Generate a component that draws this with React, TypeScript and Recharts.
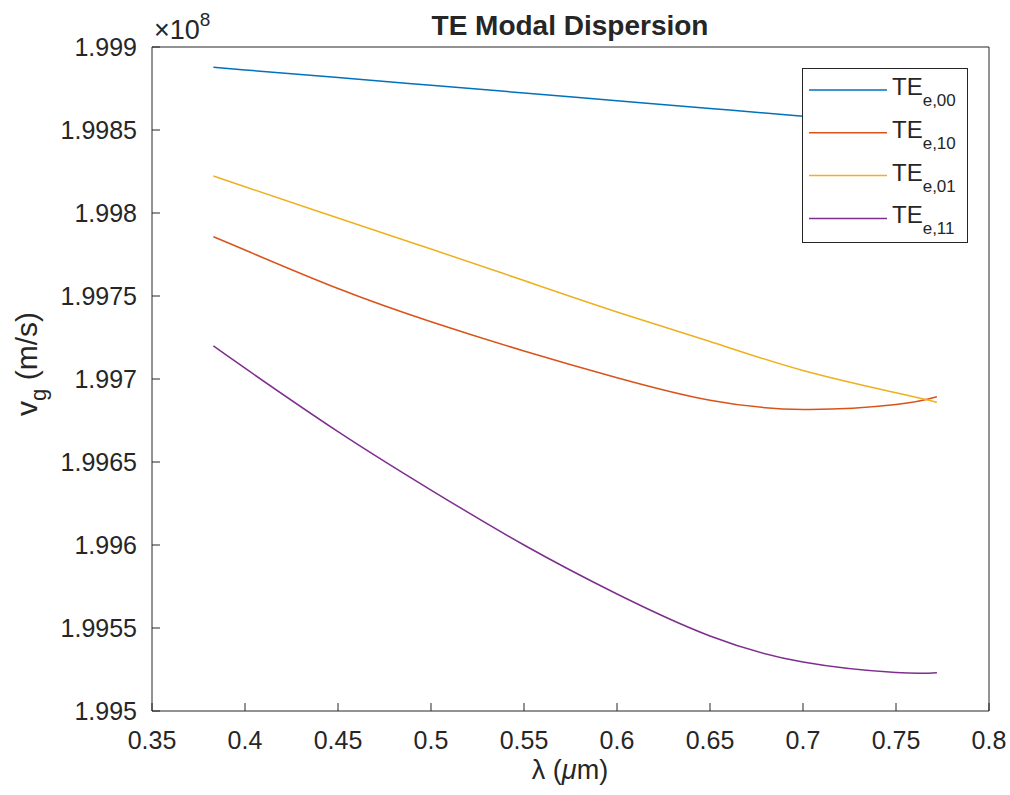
import { LineChart, Line, XAxis, YAxis, Legend } from 'recharts';

// wavelength in um, group velocity in 1e8 m/s
const lambda = [0.383, 0.4, 0.45, 0.5, 0.55, 0.6, 0.65, 0.7, 0.75, 0.772];
const te00 = [1.998878, 1.998862, 1.998816, 1.998769, 1.998723, 1.998676, 1.99863, 1.998583, 1.998537, 1.998516];
const te10 = [1.997857, 1.997777, 1.997545, 1.997345, 1.997169, 1.997008, 1.996872, 1.996817, 1.996846, 1.996893];
const te01 = [1.998223, 1.998158, 1.99797, 1.997783, 1.997593, 1.997404, 1.997226, 1.997051, 1.996917, 1.99686];
const te11 = [1.997199, 1.997065, 1.996683, 1.996331, 1.996, 1.995705, 1.995452, 1.995295, 1.995232, 1.995231];

const xTicks = [0.35, 0.4, 0.45, 0.5, 0.55, 0.6, 0.65, 0.7, 0.75, 0.8];
const yTicks = [1.995, 1.9955, 1.996, 1.9965, 1.997, 1.9975, 1.998, 1.9985, 1.999];

const series = [
  { key: 'te00', sub: 'e,00', color: '#0072BD' },
  { key: 'te10', sub: 'e,10', color: '#D95319' },
  { key: 'te01', sub: 'e,01', color: '#EDB120' },
  { key: 'te11', sub: 'e,11', color: '#7E2F8E' },
];

const data = lambda.map((l, i) => ({
  lambda: l,
  te00: te00[i],
  te10: te10[i],
  te01: te01[i],
  te11: te11[i],
}));

const FONT = '"Liberation Sans", Arial, Helvetica, sans-serif';
const INK = '#262626';
const tickStyle = { fontSize: 25, fill: INK, fontFamily: FONT };

function LegendBox() {
  return (
    <svg width={166} height={175} style={{ display: 'block' }}>
      <rect x={0.5} y={0.5} width={165} height={174} fill="#fff" stroke={INK} strokeWidth={1} />
      {series.map((s, i) => {
        const cy = 22 + i * 42.8;
        return (
          <g key={s.key}>
            <line x1={7} x2={85} y1={cy} y2={cy} stroke={s.color} strokeWidth={1.5} />
            <text x={90} y={cy + 5} fontSize={24} fill={INK} fontFamily={FONT}>
              TE
              <tspan dy={11} fontSize={17}>{s.sub}</tspan>
            </text>
          </g>
        );
      })}
    </svg>
  );
}

export default function App() {
  return (
    <div style={{ position: 'absolute', left: 0, top: 0, width: 1010, height: 795, background: '#fff' }}>
      <LineChart
        width={1010}
        height={795}
        data={data}
        margin={{ top: 0, right: 0, bottom: 0, left: 0 }}
      >
        <XAxis
          dataKey="lambda"
          type="number"
          domain={[0.35, 0.8]}
          ticks={xTicks}
          tickFormatter={(v: number) => String(v)}
          height={84}
          tickSize={-8}
          tickMargin={28}
          tick={tickStyle}
          stroke={INK}
          interval={0}
          label={{
            content: () => (
              <text x={570} y={779} textAnchor="middle" fontSize={27} fill={INK} fontFamily={FONT}>
                λ (<tspan fontStyle="italic">μ</tspan>m)
              </text>
            ),
          }}
        />
        <XAxis
          xAxisId="top"
          orientation="top"
          dataKey="lambda"
          type="number"
          domain={[0.35, 0.8]}
          ticks={xTicks}
          height={47}
          tickSize={-8}
          tick={false}
          stroke={INK}
          interval={0}
        />
        <YAxis
          type="number"
          domain={[1.995, 1.999]}
          ticks={yTicks}
          tickFormatter={(v: number) => String(v)}
          width={152}
          tickSize={-8}
          tickMargin={23}
          tick={tickStyle}
          stroke={INK}
          interval={0}
          label={{
            content: () => (
              <text
                transform="rotate(-90)"
                x={-364}
                y={37}
                textAnchor="middle"
                fontSize={30}
                fill={INK}
                fontFamily={FONT}
              >
                v<tspan dy={9} fontSize={22}>g</tspan>
                <tspan dy={-9}> (m/s)</tspan>
              </text>
            ),
          }}
        />
        <YAxis
          yAxisId="right"
          orientation="right"
          type="number"
          domain={[1.995, 1.999]}
          ticks={yTicks}
          width={21}
          tickSize={-8}
          tick={false}
          stroke={INK}
          interval={0}
        />
        {series.map((s) => (
          <Line
            key={s.key}
            type="natural"
            dataKey={s.key}
            stroke={s.color}
            strokeWidth={1.5}
            dot={false}
            activeDot={false}
            isAnimationActive={false}
          />
        ))}
        <Legend
          layout="vertical"
          align="center"
          verticalAlign="middle"
          content={() => <LegendBox />}
          wrapperStyle={{ position: 'absolute', left: 802, top: 68, width: 166, height: 175 }}
        />
      </LineChart>
      <svg
        width={1010}
        height={60}
        style={{ position: 'absolute', left: 0, top: 0, pointerEvents: 'none' }}
      >
        <text x={570} y={35} textAnchor="middle" fontSize={28} fontWeight="bold" fill={INK} fontFamily={FONT}>
          TE Modal Dispersion
        </text>
        <text x={154} y={39} fontSize={27} fill={INK} fontFamily={FONT}>
          ×10<tspan dy={-13} fontSize={19}>8</tspan>
        </text>
      </svg>
    </div>
  );
}
